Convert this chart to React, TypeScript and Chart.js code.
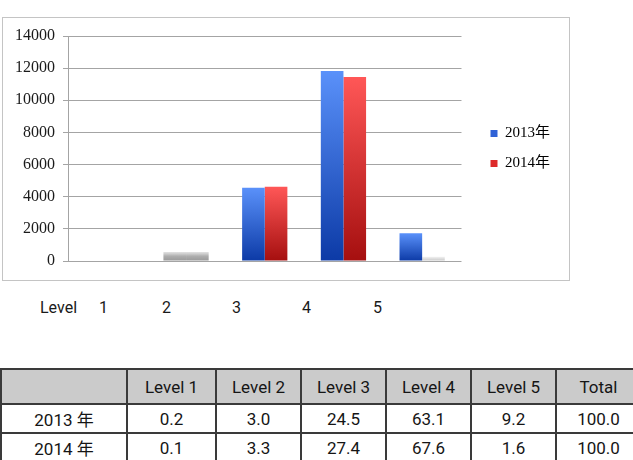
import React, { useEffect, useRef } from "react";
import { Chart, registerables } from "chart.js";

Chart.register(...registerables);

const categories = ["Level 1", "Level 2", "Level 3", "Level 4", "Level 5"];
const seriesNames = ["2013年", "2014年"];
const values2013 = [37, 560, 4560, 11820, 1720];
const values2014 = [17, 560, 4620, 11450, 270];
const yTicks = [0, 2000, 4000, 6000, 8000, 10000, 12000, 14000];
const levelRowLabels = ["Level", "1", "2", "3", "4", "5"];
const tableHeader = ["", "Level 1", "Level 2", "Level 3", "Level 4", "Level 5", "Total"];
const table2013 = ["2013 年", "0.2", "3.0", "24.5", "63.1", "9.2", "100.0"];
const table2014 = ["2014 年", "0.1", "3.3", "27.4", "67.6", "1.6", "100.0"];

// bars that render as faint grey shadows in the reference
const greyBars2013 = [0, 1];
const greyBars2014 = [0, 1, 4];

const makeFill = (top: string, bottom: string, solid: string, greyIdx: number[]) => (c: any) => {
  if (c.type !== "data") return solid;
  const isGrey = greyIdx.includes(c.dataIndex);
  const chart = c.chart;
  const y = chart.scales && chart.scales.y;
  if (!chart.chartArea || !y) return isGrey ? "rgba(160,160,160,0.2)" : solid;
  const yTop = y.getPixelForValue(c.raw);
  const yBase = y.getPixelForValue(0);
  if (!isFinite(yTop) || !isFinite(yBase) || yBase - yTop < 2) return isGrey ? "rgba(160,160,160,0.12)" : solid;
  const g = chart.ctx.createLinearGradient(0, yTop, 0, yBase);
  if (isGrey) {
    const strong = yBase - yTop > 6;
    g.addColorStop(0, strong ? "rgba(190,190,190,0.45)" : "rgba(210,210,210,0.3)");
    g.addColorStop(0.45, strong ? "rgba(160,160,160,0.85)" : "rgba(190,190,190,0.5)");
    g.addColorStop(1, strong ? "#989898" : "rgba(170,170,170,0.7)");
  } else {
    g.addColorStop(0, top);
    g.addColorStop(1, bottom);
  }
  return g;
};

export default function App() {
  const ref = useRef<HTMLCanvasElement | null>(null);
  useEffect(() => {
    if (!ref.current) return;
    const chart = new Chart(ref.current, {
      type: "bar",
      data: {
        labels: categories,
        datasets: [
          {
            label: seriesNames[0],
            data: values2013,
            backgroundColor: makeFill("#5a91fa", "#0c3aa6", "#3466d8", greyBars2013),
            borderWidth: 0,
          },
          {
            label: seriesNames[1],
            data: values2014,
            backgroundColor: makeFill("#ff5757", "#a50f0f", "#dd2a2a", greyBars2014),
            borderWidth: 0,
          },
        ],
      },
      options: {
        animation: false,
        responsive: false,
        maintainAspectRatio: false,
        devicePixelRatio: 1,
        layout: { padding: { left: 0, top: 18, bottom: 19, right: 9 } },
        datasets: { bar: { categoryPercentage: 0.575, barPercentage: 1.0 } },
        scales: {
          x: { display: false, type: "category" },
          y: {
            type: "linear",
            min: 0,
            max: 14000,
            afterFit: (s: any) => {
              s.width = 65;
            },
            afterBuildTicks: (s: any) => {
              s.ticks = yTicks.map((v) => ({ value: v }));
            },
            ticks: {
              padding: 8,
              color: "#1a1a1a",
              font: { family: "'Liberation Serif', serif", size: 16 },
              callback: (v: any) => String(v),
            },
            grid: { color: "#a4a4a4", lineWidth: 1, tickLength: 5 },
            border: { display: true, color: "#a4a4a4", width: 1 },
          },
          spacer: {
            type: "linear",
            position: "right",
            display: true,
            ticks: { display: false },
            grid: { display: false, drawTicks: false },
            border: { display: false },
            afterFit: (s: any) => {
              s.width = 14;
            },
          },
        },
        plugins: {
          tooltip: { enabled: false },
          legend: {
            position: "right",
            labels: {
              boxWidth: 7,
              boxHeight: 7,
              padding: 15,
              color: "#1a1a1a",
              font: { family: "'Liberation Serif', 'Noto Sans CJK JP', serif", size: 15 },
              generateLabels: () => [
                { text: seriesNames[0], fillStyle: "#2f62d6", strokeStyle: "#2f62d6", lineWidth: 0, datasetIndex: 0 },
                { text: seriesNames[1], fillStyle: "#dd2a2a", strokeStyle: "#dd2a2a", lineWidth: 0, datasetIndex: 1 },
              ],
            },
          },
        },
      } as any,
    });
    return () => chart.destroy();
  }, []);

  const levelLefts = [40, 99, 162, 232, 302, 373];
  const colWidths = [126, 89, 85, 85, 85, 85, 85];
  const cellBase: React.CSSProperties = {
    border: "2px solid #3a3a3a",
    padding: 0,
    textAlign: "center",
    verticalAlign: "middle",
    fontFamily: "Roboto, 'Noto Sans CJK JP', sans-serif",
    fontSize: 17,
    color: "#151515",
    overflow: "hidden",
    whiteSpace: "nowrap",
  };

  return (
    <div style={{ position: "absolute", left: 0, top: 0, width: 633, height: 460, overflow: "hidden", background: "#fff" }}>
      <div style={{ position: "absolute", left: 2, top: 17, width: 566, height: 262, border: "1px solid #c4c4c4" }}>
        <canvas ref={ref} width={566} height={262} style={{ display: "block", width: 566, height: 262 }} />
      </div>
      {levelRowLabels.map((t, i) => (
        <span
          key={i}
          style={{
            position: "absolute",
            left: levelLefts[i],
            top: 298,
            lineHeight: "20px",
            fontFamily: "Roboto, sans-serif",
            fontSize: 16,
            color: "#1a1a1a",
          }}
        >
          {t}
        </span>
      ))}
      <table
        style={{
          position: "absolute",
          left: 0,
          top: 368,
          borderCollapse: "collapse",
          tableLayout: "fixed",
          width: colWidths.reduce((a, b) => a + b, 0),
        }}
      >
        <colgroup>
          {colWidths.map((w, i) => (
            <col key={i} style={{ width: w }} />
          ))}
        </colgroup>
        <tbody>
          <tr style={{ height: 35 }}>
            {tableHeader.map((t, i) => (
              <td key={i} style={{ ...cellBase, background: "#cbcbcb" }}>
                {t}
              </td>
            ))}
          </tr>
          <tr style={{ height: 29 }}>
            {table2013.map((t, i) => (
              <td key={i} style={cellBase}>
                {t}
              </td>
            ))}
          </tr>
          <tr style={{ height: 29 }}>
            {table2014.map((t, i) => (
              <td key={i} style={cellBase}>
                {t}
              </td>
            ))}
          </tr>
        </tbody>
      </table>
    </div>
  );
}
